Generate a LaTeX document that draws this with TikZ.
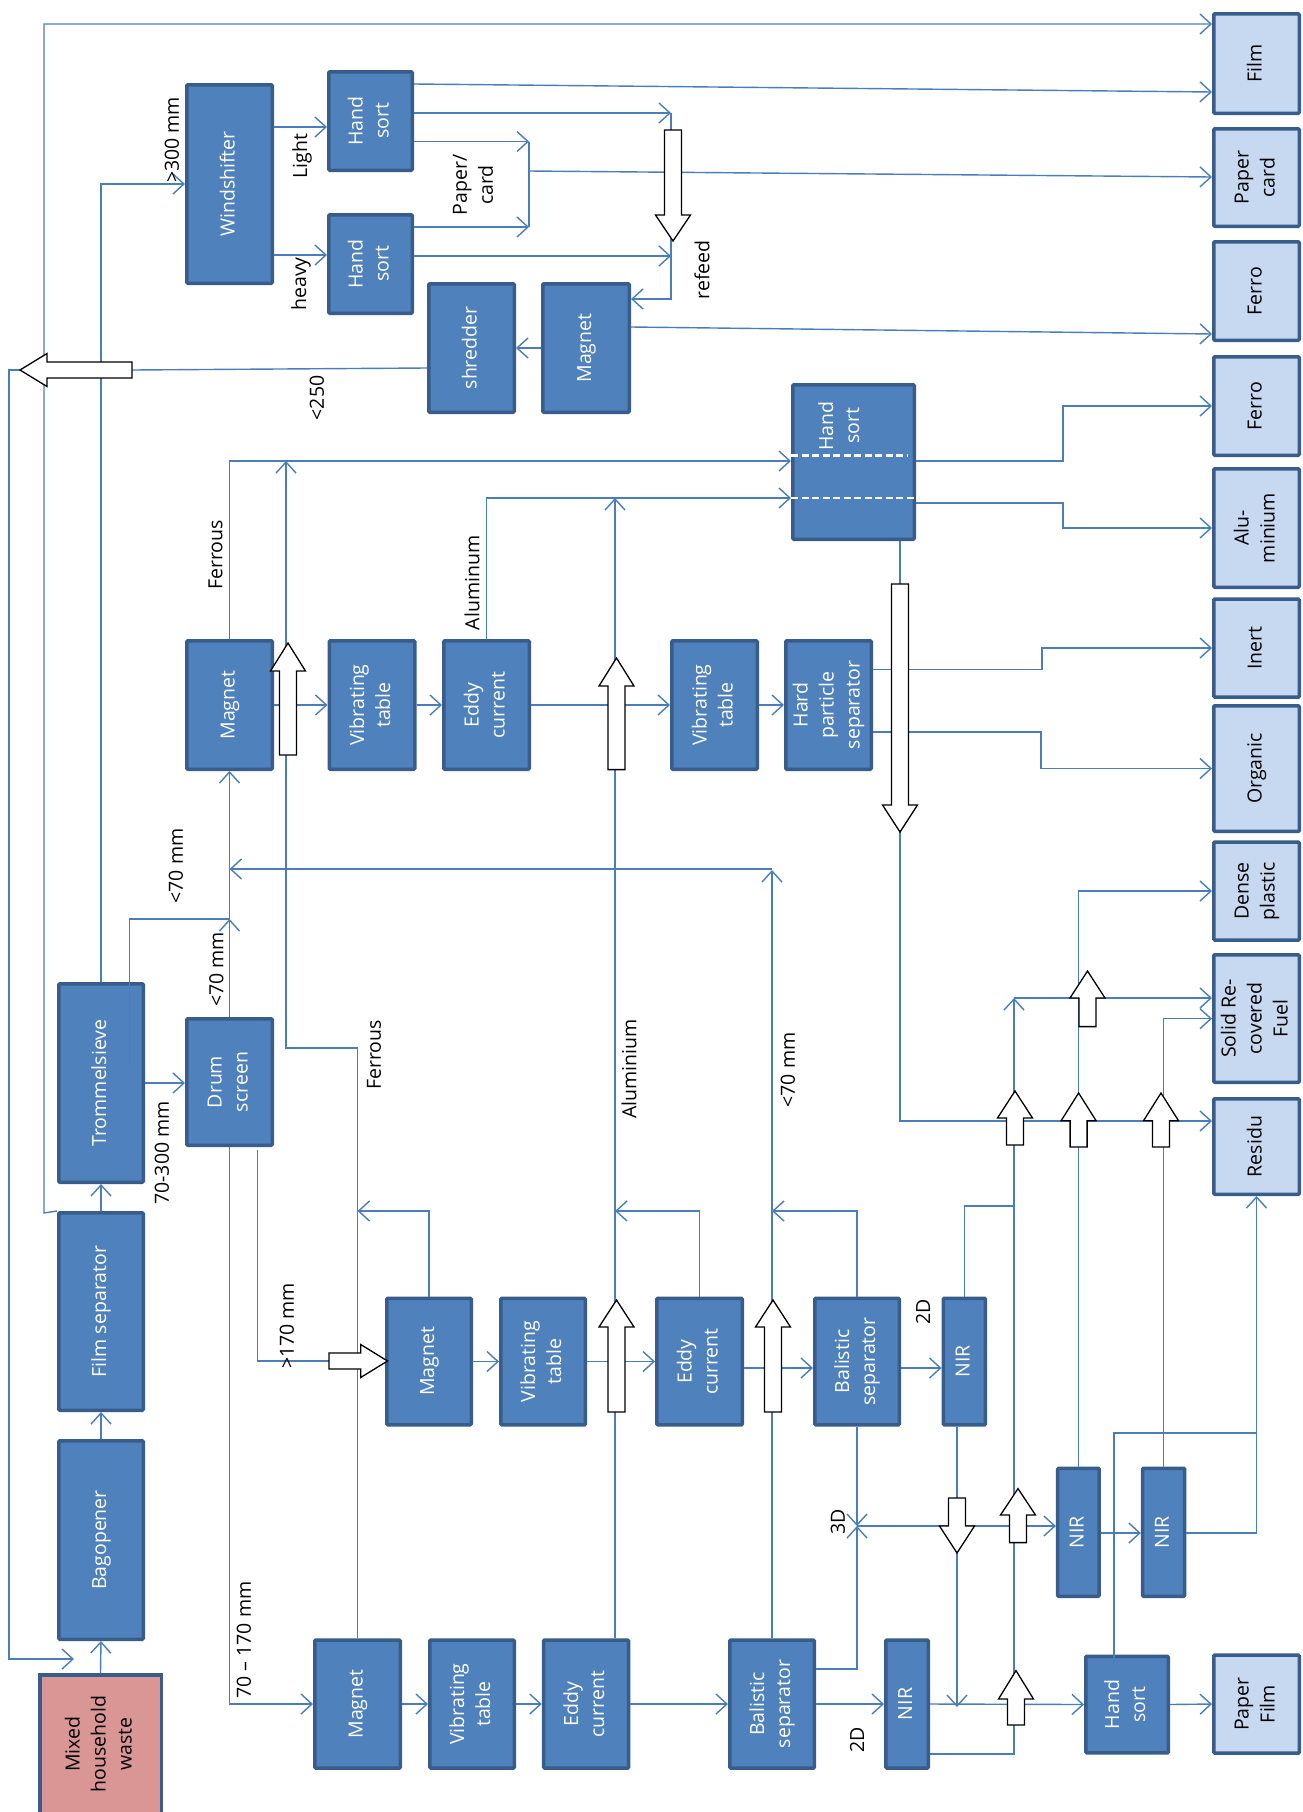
\documentclass[tikz,border=0pt]{standalone}
\usepackage{fontspec}
\setmainfont{Open Sans}
\usetikzlibrary{arrows.meta}
\definecolor{boxfill}{HTML}{4F81BD}
\definecolor{boxline}{HTML}{385D8A}
\definecolor{lightfill}{HTML}{C6D9F1}
\definecolor{pinkfill}{HTML}{D99694}
\definecolor{lnc}{HTML}{4A7EBB}
\newcommand\rt[1]{\rotatebox{90}{\begin{tabular}{@{}c@{}}#1\end{tabular}}}
% vertical hollow arrow: cx, tip y, head-base y, tail y
\newcommand\hvert[4]{\draw[hollowarr] ({#1-8.5},#4) -- ({#1-8.5},#3) -- ({#1-17.5},#3) -- (#1,#2) -- ({#1+17.5},#3) -- ({#1+8.5},#3) -- ({#1+8.5},#4) -- cycle;}
% horizontal hollow arrow: cy, tip x, head-base x, tail x
\newcommand\hhoriz[4]{\draw[hollowarr] (#4,{#1-8}) -- (#3,{#1-8}) -- (#3,{#1-16.5}) -- (#2,#1) -- (#3,{#1+16.5}) -- (#3,{#1+8}) -- (#4,{#1+8}) -- cycle;}
\tikzset{
  txt/.style={font=\fontsize{19.5}{26}\selectfont},
  proc/.style={txt, draw=boxline, fill=boxfill, line width=3.5pt, text=white, inner sep=0pt, rounded corners=1pt},
  prod/.style={txt, draw=boxline, fill=lightfill, line width=3.5pt, text=black, inner sep=0pt, rounded corners=1pt},
  srcbox/.style={txt, draw=boxline, fill=pinkfill, line width=3.5pt, text=black, inner sep=0pt},
  cline/.style={draw=lnc, line width=1.4pt},
  arr/.style={cline, -{Straight Barb[length=11pt,width=20pt]}},
  lbl/.style={txt, text=black, inner sep=0pt, rotate=90},
  hollowarr/.style={draw=black, fill=white, line width=1.3pt},
  bw/.style={minimum width=85.5pt, minimum height=128.5pt},
  pw/.style={minimum width=85.5pt},
}
\begin{document}
\begin{tikzpicture}[x=1pt, y=-1pt]
\fill[white] (0,0) rectangle (1302,1812);
\useasboundingbox (0,0) rectangle (1302,1812);

% ---------------- process boxes ----------------
\node[proc, minimum width=85.5pt, minimum height=198.5pt] (ws) at (229.5,184) {\rt{Windshifter}};
\node[proc, minimum width=83.5pt, minimum height=98.5pt] (hs1) at (370.5,121) {\rt{Hand\\sort}};
\node[proc, minimum width=83.5pt, minimum height=98.5pt] (hs2) at (370.5,264) {\rt{Hand\\sort}};
\node[proc, bw] (shr) at (471.5,348) {\rt{shredder}};
\node[proc, minimum width=86.5pt, minimum height=128.5pt] (mg0) at (586,348) {\rt{Magnet}};
\node[proc, minimum width=121.5pt, minimum height=154.5pt] (hsb) at (853.5,462) {};
\node[txt, text=white, inner sep=0pt] (hsbtext) at (841,426) {\rt{Hand\\sort}};

\node[proc, bw] (mg1) at (229.5,705) {\rt{Magnet}};
\node[proc, bw] (vt1) at (372,705) {\rt{Vibrating\\table}};
\node[proc, bw] (ec1) at (486.5,705) {\rt{Eddy\\current}};
\node[proc, bw] (vt2) at (714.5,705) {\rt{Vibrating\\table}};
\node[proc, bw] (hp) at (828.5,705) {\rt{Hard\\particle\\separator}};

\node[proc, minimum width=84.5pt, minimum height=198.5pt] (ts) at (101,1083) {\rt{Trommelsieve}};
\node[proc, minimum width=85.5pt, minimum height=126.5pt] (ds) at (229.5,1082) {\rt{Drum\\screen}};
\node[proc, minimum width=84.5pt, minimum height=197.5pt] (fs) at (101,1311.5) {\rt{Film separator}};
\node[proc, minimum width=84.5pt, minimum height=198.5pt] (bo) at (101,1540) {\rt{Bagopener}};
\node[srcbox, minimum width=121.5pt, minimum height=138.5pt] (mh) at (100.5,1744) {\rt{Mixed\\household\\waste}};

\node[proc, minimum width=84.5pt, minimum height=126.5pt] (mg2) at (429,1361.5) {\rt{Magnet}};
\node[proc, minimum width=84.5pt, minimum height=126.5pt] (vt3) at (543,1361.5) {\rt{Vibrating\\table}};
\node[proc, minimum width=85.5pt, minimum height=126.5pt] (ec2) at (699.5,1361.5) {\rt{Eddy\\current}};
\node[proc, minimum width=84.5pt, minimum height=126.5pt] (bs1) at (857,1361.5) {\rt{Balistic\\separator}};
\node[proc, minimum width=42pt, minimum height=126.5pt] (nir1) at (964.3,1361.5) {\rt{NIR}};

\node[proc, minimum width=85.5pt, minimum height=128pt] (mg3) at (357.5,1704) {\rt{Magnet}};
\node[proc, minimum width=84.5pt, minimum height=128pt] (vt4) at (472,1704) {\rt{Vibrating\\table}};
\node[proc, minimum width=85pt, minimum height=128pt] (ec3) at (586,1704) {\rt{Eddy\\current}};
\node[proc, minimum width=84.5pt, minimum height=128pt] (bs2) at (772,1704) {\rt{Balistic\\separator}};
\node[proc, minimum width=42.5pt, minimum height=128pt] (nir2) at (907,1704) {\rt{NIR}};
\node[proc, minimum width=41.5pt, minimum height=128pt] (nir3) at (1078.4,1532.3) {\rt{NIR}};
\node[proc, minimum width=42pt, minimum height=128pt] (nir4) at (1163.6,1532.3) {\rt{NIR}};
\node[proc, minimum width=82.5pt, minimum height=96.5pt] (hs3) at (1127,1704.5) {\rt{Hand\\sort}};

% ---------------- product boxes ----------------
\node[prod, pw, minimum height=99.5pt] (film) at (1256.5,63.5) {\rt{Film}};
\node[prod, pw, minimum height=97.5pt] (paper) at (1256.5,177.5) {\rt{Paper\\card}};
\node[prod, pw, minimum height=98.5pt] (ferroA) at (1256.5,291) {\rt{Ferro}};
\node[prod, pw, minimum height=98.5pt] (ferroB) at (1256.5,406) {\rt{Ferro}};
\node[prod, pw, minimum height=118.5pt] (alu) at (1256.5,528) {\rt{Alu-\\minium}};
\node[prod, pw, minimum height=98pt] (inert) at (1256.5,648) {\rt{Inert}};
\node[prod, pw, minimum height=125.5pt] (organic) at (1256.5,768.5) {\rt{Organic}};
\node[prod, pw, minimum height=98pt] (dense) at (1256.5,891) {\rt{Dense\\plastic}};
\node[prod, pw, minimum height=127.5pt] (srf) at (1256.5,1018.5) {\rt{Solid Re-\\covered\\Fuel}};
\node[prod, pw, minimum height=95.5pt] (residu) at (1256.5,1146.5) {\rt{Residu}};
\node[prod, pw, minimum height=98pt] (pfilm) at (1256.5,1704) {\rt{Paper\\Film}};

% white dashed separators in the big hand sort box
\draw[white, line width=2.6pt, dash pattern=on 7pt off 3.5pt] (hsb.west |- 0,455.5) -- (908,455.5);
\draw[white, line width=2.6pt, dash pattern=on 7pt off 3.5pt] (hsb.west |- 0,498) -- (hsb.east |- 0,498);

% ---------------- connectors ----------------
% main feed chain
\draw[arr] (mh.north) -- (bo.south);
\draw[arr] (bo.north) -- (fs.south);
\draw[arr] (fs.north) -- (ts.south);
\draw[arr] (fs.north west) -- (44,1213) -- (44,24) -- (film.west |- 0,24);
\draw[arr] (ts.north) |- (ws.west);
\draw[arr] (ws.east |- 0,127) -- (hs1.west |- 0,127);
\draw[arr] (ws.east |- 0,255) -- (hs2.west |- 0,255);
\draw[arr] (hs1.east |- 0,84) -- (film.west |- 0,92);
\draw[arr] (hs1.east |- 0,113) -- (671,113);
\draw[arr] (hs2.east |- 0,256) -- (671,256);
\draw[arr] (671,113) -- (671,299) -- (mg0.east |- 0,299);
\draw[arr] (hs1.east |- 0,141.5) -- (529,141.5);
\draw[arr] (hs2.east |- 0,227) -- (529,227);
\draw[cline] (529,141.5) -- (529,227);
\draw[arr] (529,171) -- (paper.west |- 0,177);
\draw[arr] (mg0.west) -- (shr.east);
\draw[arr] (mg0.east |- 0,327) -- (ferroA.west |- 0,334);
\draw[cline] (shr.west |- 0,368) -- (132,370);
\draw[arr] (20,370) -- (9,370) -- (9,1659) -- (74,1659);

% upper sorting line
\draw[arr] (mg1.north) |- (hsb.west |- 0,461);
\draw[arr] (ec1.north) |- (hsb.west |- 0,498);
\draw[arr] (mg1.east) -- (vt1.west);
\draw[arr] (vt1.east) -- (ec1.west);
\draw[arr] (ec1.east) -- (vt2.west);
\draw[arr] (vt2.east) -- (hp.west);
\draw[arr] (hp.east |- 0,669.5) -- (1042,669.5) -- (1042,648) -- (inert.west);
\draw[arr] (hp.east |- 0,732) -- (1041,732) -- (1041,768.5) -- (organic.west);
\draw[arr] (hsb.east |- 0,461) -- (1063,461) -- (1063,406) -- (ferroB.west);
\draw[arr] (hsb.east |- 0,503) -- (1063,503) -- (1063,528) -- (alu.west);
\draw[cline] (hsb.south -| 900,0) -- (900,584);
\draw[arr] (900,832) -- (900,1121) -- (residu.west |- 0,1121);

% drum screen
\draw[arr] (ts.east |- 0,1083) -- (ds.west |- 0,1083);
\draw[arr] (ds.north) -- (229.5,919);
\draw[cline] (129.5,1066) -- (129.5,919) -- (229.5,919);
\draw[arr] (229.5,919) -- (mg1.south);
\draw[arr] (bs2.north) -- (772,870);
\draw[arr] (772,869) -- (229.5,869);
\draw[arr] (ds.south) |- (mg3.west);
\draw[cline] (257.6,1150) -- (257.6,1361) -- (329,1361);

% return lines
\draw[arr] (mg3.north) -- (357.5,1048) -- (286,1048) -- (286,461);
\draw[arr] (mg2.north) -- (429,1211) -- (357.5,1211);
\draw[arr] (ec3.north -| 615,0) -- (615,498);
\draw[arr] (ec2.north) -- (699.5,1211) -- (615,1211);
\draw[arr] (bs1.north) -- (857,1211) -- (772,1211);

% middle row
\draw[arr] (mg2.east) -- (vt3.west);
\draw[arr] (vt3.east) -- (ec2.west);
\draw[arr] (ec2.east |- 0,1368) -- (bs1.west |- 0,1368);
\draw[arr] (bs1.east |- 0,1368) -- (nir1.west |- 0,1368);

% bottom row
\draw[arr] (mg3.east) -- (vt4.west);
\draw[arr] (vt4.east) -- (ec3.west);
\draw[arr] (ec3.east) -- (bs2.west);
\draw[arr] (bs2.east) -- (nir2.west);
\draw[arr] (nir2.east) -- (hs3.west);
\draw[arr] (hs3.east) -- (pfilm.west);

% 3D / NIR network
\draw[arr] (bs1.south) -- (857,1526);
\draw[arr] (bs2.east |- 0,1669) -- (857,1669) -- (857,1526);
\draw[arr] (857,1526) -- (nir3.west |- 0,1526);
\draw[arr] (nir3.east |- 0,1533) -- (nir4.west |- 0,1533);
\draw[arr] (nir4.east |- 0,1533) -- (1256.5,1533) -- (residu.south);
\draw[arr] (nir3.north) |- (dense.west);
\draw[arr] (nir4.north) |- (srf.west |- 0,1018.7);
\draw[cline] (1114,1665) -- (1114,1433) -- (1256.5,1433);
\draw[cline] (nir1.north) -- (964.3,1206) -- (1014,1206);
\draw[arr] (nir1.south -| 957,0) -- (957,1707);
\draw[arr] (nir2.east |- 0,1754) -- (1014,1754) -- (1014,998);
\draw[arr] (1014,998) -- (srf.west |- 0,998);

% ---------------- hollow arrows ----------------
\hhoriz{370}{20}{47}{132}
\hvert{673}{241}{215}{130}
\hvert{900}{832}{805}{584}
\hvert{288}{643}{671}{755}
\hvert{616.5}{658}{686}{769.6}
\hvert{616.5}{1300}{1327}{1412}
\hvert{773}{1300}{1327}{1412}
\hhoriz{1361}{387.5}{360.7}{329}
\hvert{957}{1553}{1526}{1498}
\hvert{1018}{1488.6}{1515}{1542.6}
\hvert{1016}{1670.6}{1699}{1725}
\hvert{1015}{1091}{1118}{1145}
\hvert{1078.6}{1093}{1120.7}{1147}
\hvert{1161}{1093}{1120.7}{1147}
\hvert{1087.5}{971}{998}{1026.6}

% ---------------- labels ----------------
\node[lbl] (l300) at (172,140) {>300 mm};
\node[lbl] (llight) at (302,156) {Light};
\node[lbl] (lheavy) at (301,284) {heavy};
\node[lbl, align=center, font=\fontsize{19.5}{26}\selectfont] (lpaper) at (473,185) {Paper/\\card};
\node[lbl] (lrefeed) at (702,270) {refeed};
\node[lbl] (l250) at (317,398) {<250};
\node[lbl] (lfe1) at (215.5,555) {Ferrous};
\node[lbl] (lal1) at (472,583) {Aluminum};
\node[lbl] (l70a) at (176,866) {<70 mm};
\node[lbl] (l70b) at (216.5,969.5) {<70 mm};
\node[lbl] (l70300) at (162,1153) {70-300 mm};
\node[lbl] (lfe2) at (374,1055) {Ferrous};
\node[lbl] (lal2) at (629,1069) {Aluminium};
\node[lbl] (l70c) at (788,1070) {<70 mm};
\node[lbl] (l170) at (287,1326) {>170 mm};
\node[lbl] (l70170) at (244,1640) {70 – 170 mm};
\node[lbl] (l2da) at (923,1312) {2D};
\node[lbl] (l3d) at (838,1522) {3D};
\node[lbl] (l2db) at (857,1740) {2D};
\end{tikzpicture}
\end{document}
